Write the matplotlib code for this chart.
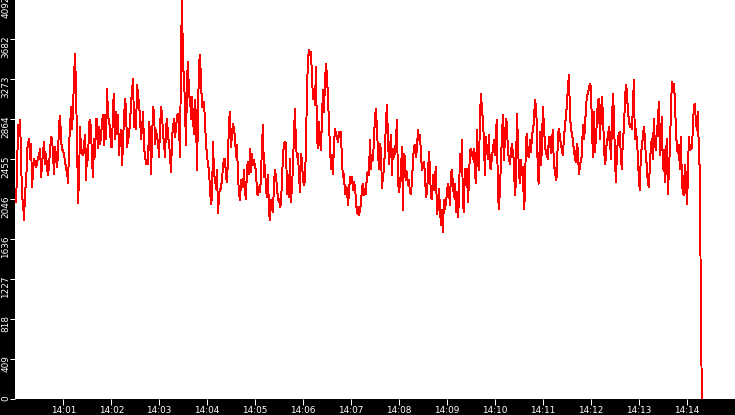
import matplotlib
matplotlib.use('Agg')
import matplotlib.pyplot as plt
import matplotlib.transforms as mtransforms
import pandas as pd

plt.rcParams['font.family'] = ['DejaVu Sans']

start_time = '14:00:01'
sample_period_ms = 1250

load = [
    # 14:00:01 ...
    2019, 2377, 2803, 2735, 2855, 2428, 2070, 2002, 1832, 2156, 2173, 2548, 2616, 2667, 2462, 2616,
    2173, 2360, 2462, 2411, 2377, 2411, 2479, 2497, 2565, 2275, 2411, 2531, 2633, 2411, 2514, 2360,
    2292, 2411, 2548, 2684, 2667, 2479, 2309, 2582, 2462, 2377, 2531, 2820, 2896, 2650, 2548, 2548,
    2497, 2428, 2360, 2326, 2214, 2599, 2803, 2991, 2769, 2974, 3315, 3537, 3127, 2633, 2009, 2292,
    2786, 2514, 2548, 2497, 2616, 2701, 2241, 2565, 2445, 2838, 2855, 2752, 2428, 2275, 2667, 2479,
    2865, 2872, 2565, 2786, 2616, 2684, 2855, 2906, 2599, 2906, 2667, 3179, 2889, 2855, 2752, 2582,
    2582, 3025, 3127, 2667, 2940, 2718, 2906, 2497, 2684, 2752, 2394, 2650, 2889, 3076, 2957, 2582,
    2650, 2718, 2838, 3025, 3161, 3281, 2786, 2872,
    # ~14:02:30 ...
    2769, 3212, 3110, 3025, 2871, 2667, 2769, 2940, 2582, 2479, 2411, 2445, 2411, 2837, 2735, 2309,
    2650, 2991, 2940, 2616, 2752, 2684, 2633, 2479, 2786, 2991, 2906, 2718, 2616, 2479, 2786, 2871,
    2684, 2633, 2479, 2326, 2684, 2786, 2871, 2684, 2769, 2906, 2923, 2786, 2479, 3605, 4082, 3383,
    3315, 2957, 2599, 3281, 3451, 3093, 3093, 2871, 3093, 2854, 2718, 3059, 2871, 2343, 2940, 3434,
    3519, 3264, 2991, 3025, 3042, 2820, 2616, 2496, 2394, 2343, 2138, 2002, 2070, 2633, 2292, 2258,
    2155, 2343, 1900, 2087, 2155, 2155, 2258, 2377, 2462, 2462, 2275, 2224, 2479, 2854, 2940, 2582,
    2718, 2820, 2752, 2684, 2479, 2599, 2275, 2104, 2036, 2241, 2189, 2172, 2343, 2121, 2053, 2377,
    2428, 2309,
    # ~14:04:53 ...
    2565, 2326, 2514, 2394, 2445, 2377, 2343, 2104, 2087, 2173, 2121, 2275, 2616, 2803, 2275, 2394,
    2138, 2070, 2292, 1917, 1832, 2036, 1951, 1917, 2207, 2343, 2275, 2173, 2036, 2053, 1968, 2002,
    2241, 2497, 2616, 2633, 2616, 2104, 2292, 2070, 2462, 2019, 2173, 2394, 2718, 2974, 2582, 2479,
    2514, 2292, 2121, 2514, 2445, 2241, 2190, 2241, 2599, 3161, 3485, 3571, 3520, 3554, 3298, 3076,
    3127, 3008, 3400, 2667, 2565, 2838, 2650, 2548, 2889, 3161, 2940, 3247, 3434, 3298, 3093, 2820,
    2599, 2360, 2497, 2309, 2599, 2769, 2718, 2684, 2633, 2735, 2684, 2735, 2428, 2275, 2309, 2104,
    2173, 2156, 1985, 2104, 2275, 2258, 2275, 2138, 2224, 2173, 2036, 1900, 1968, 1883, 1934, 2002,
    2156, 2207, 2087,
    # ~14:07:17 ...
    2156, 2104, 2309, 2326, 2292, 2650, 2360, 2497, 2445, 2650, 2889, 2974, 2752, 2548, 2360, 2616,
    2548, 2156, 2275, 2360, 2548, 2855, 3008, 2684, 2411, 2565, 2701, 2292, 2565, 2479, 2531, 2650,
    2855, 2241, 2121, 2207, 2326, 2582, 1934, 2514, 2479, 2241, 2326, 2190, 2241, 2121, 2104, 2224,
    2428, 2582, 2599, 2479, 2565, 2752, 2650, 2701, 2514, 2343, 2411, 2428, 2309, 2070, 2121, 2275,
    2531, 2360, 2070, 2053, 2292, 2138, 2275, 2377, 1900, 1951, 2156, 1968, 1780, 1934, 1712, 2036,
    1951, 2002, 2104, 2207, 2156, 1985, 2309, 2343, 2207, 2070, 2207, 1917, 2121, 1866, 2019, 2514,
    2343, 2650, 2002, 1917, 2360, 2275, 2360, 2019, 2207, 2548, 2565, 2514, 2462, 2565, 2326, 2207,
    2752, 2428, 2343,
    # ~14:09:41 ...
    2855, 3127, 2974, 2855, 2650, 2292, 2684, 2565, 2462, 2701, 2377, 2360, 2479, 2548, 2650, 2497,
    2752, 2855, 2104, 1951, 2138, 2411, 2684, 2906, 2445, 2650, 2872, 2820, 2548, 2462, 2411, 2514,
    2616, 2514, 2445, 2087, 2207, 2923, 2667, 2326, 2207, 2445, 2292, 2377, 1951, 2070, 2650, 2718,
    2497, 2479, 2650, 2531, 2667, 2769, 2820, 3059, 3008, 2803, 2258, 2207, 2735, 2394, 2548, 2991,
    2803, 2616, 2514, 2497, 2462, 2684, 2684, 2514, 2650, 2752, 2377, 2360, 2241, 2292, 2684, 2769,
    2684, 2616, 2548, 2497, 2667, 2786, 2889, 3008, 3179, 3315, 2974, 2752, 2735, 2650, 2548, 2479,
    2428, 2616, 2548, 2309, 2377, 2445, 2497, 2803, 2667, 2752, 2974, 3093, 3127, 3179, 3230, 3196,
    2855, 2479, 2940,
    # ~14:12:05 ...
    2531, 2667, 2838, 3059, 3076, 2667, 2872, 3093, 2923, 2650, 2411, 2462, 2667, 2650, 2786, 2718,
    2462, 2752, 3127, 2940, 2514, 2224, 2497, 2650, 2718, 2735, 2479, 2360, 2650, 2752, 3025, 3213,
    3161, 2957, 2855, 2786, 2820, 2769, 2957, 3264, 2667, 2769, 2650, 2497, 2258, 2138, 2514, 2582,
    2684, 2786, 2684, 2479, 2394, 2207, 2173, 2377, 2582, 2667, 2462, 2872, 2616, 2548, 2752, 2820,
    3042, 2497, 2684, 2889, 2360, 2548, 2224, 2462, 2667, 2104, 2309, 2565, 2923, 3247, 3196, 3230,
    3076, 2786, 2582, 2514, 2599, 2360, 2684, 2275, 2104, 2087, 2394, 2309, 2002, 2224, 2684, 2548,
    2599, 2565, 2752, 2991, 3025, 2855, 2752, 2940, 2565, 2326,
    # drop at the end
    1054, 0,
]

y_ticks = [0, 409, 818, 1227, 1636, 2046, 2455, 2864, 3273, 3682, 4092]
x_tick_labels = ['14:01', '14:02', '14:03', '14:04', '14:05', '14:06', '14:07',
                 '14:08', '14:09', '14:10', '14:11', '14:12', '14:13', '14:14']
x_start, x_end = '14:00:00', '14:15:00'

day = '2000-01-01 '
times = pd.date_range(day + start_time, periods=len(load), freq=f'{sample_period_ms}ms')

W, H = 735, 415
FS = 6.4
fig = plt.figure(figsize=(W / 100, H / 100), dpi=100, facecolor='black')
ax = fig.add_axes([15.3 / W, 15.7 / H, (W - 15.3) / W, 400 / H])
ax.set_facecolor('white')
ax.plot(times, load, color='#ff0000', lw=0.7, antialiased=False)
ax.set_xlim(pd.Timestamp(day + x_start), pd.Timestamp(day + x_end))
ax.set_ylim(y_ticks[0], y_ticks[-1])
for s in ax.spines.values():
    s.set_visible(False)

ax.set_xticks([pd.Timestamp(day + l) for l in x_tick_labels])
ax.set_xticklabels(x_tick_labels)
ax.tick_params(axis='x', colors='white', length=6 * 0.72, width=0.72, pad=0.6,
               labelsize=FS, direction='out')

ax.set_yticks(y_ticks)
ax.set_yticklabels([])
ax.tick_params(axis='y', colors='white', length=5 * 0.72, width=0.72, direction='out')
trans = ax.get_yaxis_transform() + mtransforms.ScaledTranslation(-5.2 / 100, 4 / 100, fig.dpi_scale_trans)
for v in y_ticks:
    ax.text(0, v, str(v), transform=trans, rotation=90, ha='right', va='top',
            color='white', fontsize=FS, clip_on=False)

fig.savefig('out.png', dpi=100, facecolor='black')
